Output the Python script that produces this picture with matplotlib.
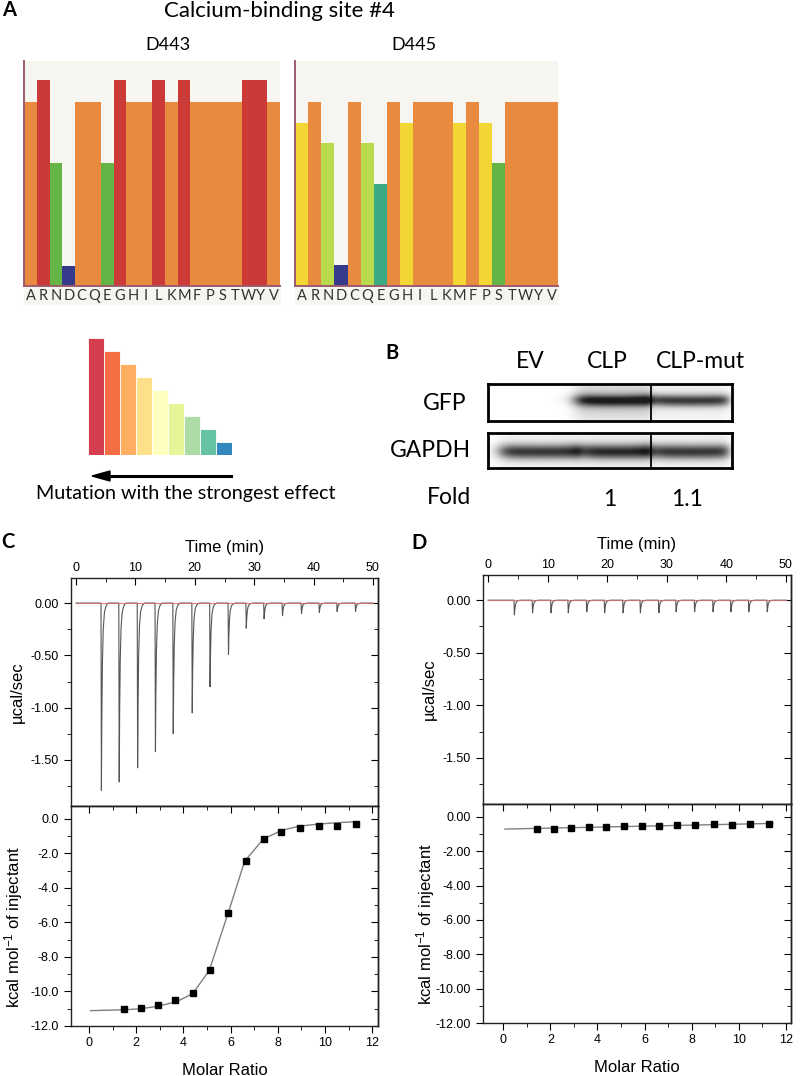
import numpy as np
import matplotlib.pyplot as plt
from matplotlib.patches import Rectangle
from matplotlib.ticker import MultipleLocator, FormatStrFormatter

plt.rcParams['axes.unicode_minus'] = False
plt.rcParams['mathtext.default'] = 'regular'

W, H = 800, 1076

# ---- panel A data ----
amino_acids = list('ARNDCQEGHILKMFPSTWYV')
d443_scores = [0.817, 0.915, 0.545, 0.089, 0.817, 0.817, 0.545, 0.915, 0.817, 0.817,
               0.915, 0.817, 0.915, 0.817, 0.817, 0.817, 0.817, 0.915, 0.915, 0.817]
d443_colors = ['#e88b3e', '#cc3a38', '#64b446', '#363a8c', '#e88b3e', '#e88b3e', '#64b446',
               '#cc3a38', '#e88b3e', '#e88b3e', '#cc3a38', '#e88b3e', '#cc3a38', '#e88b3e',
               '#e88b3e', '#e88b3e', '#e88b3e', '#cc3a38', '#cc3a38', '#e88b3e']
d445_scores = [0.724, 0.818, 0.636, 0.093, 0.818, 0.636, 0.453, 0.818, 0.724, 0.818,
               0.818, 0.818, 0.724, 0.818, 0.724, 0.547, 0.818, 0.818, 0.818, 0.818]
d445_colors = ['#f2d633', '#e88b3e', '#b9da4c', '#363a8c', '#e88b3e', '#b9da4c', '#3baa82',
               '#e88b3e', '#f2d633', '#e88b3e', '#e88b3e', '#e88b3e', '#f2d633', '#e88b3e',
               '#f2d633', '#64b446', '#e88b3e', '#e88b3e', '#e88b3e', '#e88b3e']

scale_levels = [9, 8, 7, 6, 5, 4, 3, 2, 1]
scale_colors = ['#d53e4f', '#f46d43', '#fdae61', '#fee08b', '#ffffbf',
                '#e6f598', '#abdda4', '#66c2a5', '#3288bd']

# ---- panel B data ----
lanes = ['EV', 'CLP', 'CLP-mut']
gfp_signal = [0.0, 1.0, 0.95]
gfp_haze = [0.0, 0.3, 0.12]
gapdh_signal = [0.95, 1.0, 0.95]
gapdh_haze = [0.12, 0.15, 0.12]
fold = ['', '1', '1.1']

# ---- panel C data ----
c_inj_time = [4.2, 7.2, 10.3, 13.3, 16.3, 19.5, 22.5, 25.6, 28.6, 31.6, 34.7, 37.9, 40.9, 43.9, 47.0]
c_inj_peak = [-1.79, -1.71, -1.575, -1.42, -1.25, -1.05, -0.80, -0.49, -0.24, -0.15,
              -0.12, -0.10, -0.09, -0.08, -0.08]
c_ratio = [1.50, 2.20, 2.92, 3.66, 4.39, 5.14, 5.89, 6.64, 7.40, 8.16, 8.94, 9.73, 10.52, 11.31]
c_heat = [-11.01, -10.97, -10.76, -10.51, -10.11, -8.75, -5.43, -2.42, -1.14, -0.77,
          -0.52, -0.41, -0.39, -0.29]
c_fit_x = [0.07, 1.5, 2.2, 2.9, 3.7, 4.4, 5.1, 5.9, 6.6, 7.4, 8.2, 8.9, 9.7, 10.5, 11.3]
c_fit_y = [-11.11, -11.06, -11.0, -10.86, -10.6, -10.12, -8.78, -5.45, -2.45, -1.15,
           -0.65, -0.42, -0.30, -0.22, -0.16]

# ---- panel D data ----
d_inj_time = [4.35, 7.4, 10.5, 13.4, 16.5, 19.5, 22.6, 25.5, 28.6, 31.5, 34.6, 37.7, 40.7, 43.7, 46.8]
d_inj_peak = [-0.14, -0.12, -0.12, -0.12, -0.11, -0.12, -0.12, -0.12, -0.12, -0.11,
              -0.11, -0.11, -0.11, -0.11, -0.11]
d_ratio = [1.44, 2.15, 2.89, 3.63, 4.38, 5.13, 5.88, 6.63, 7.38, 8.15, 8.93, 9.71, 10.50, 11.29]
d_heat = [-0.68, -0.70, -0.64, -0.58, -0.58, -0.54, -0.54, -0.52, -0.50, -0.48,
          -0.44, -0.46, -0.44, -0.42]
d_fit_x = [0.07, 11.45]
d_fit_y = [-0.71, -0.38]

CAL = 'Lato'
ARIAL = 'Liberation Sans'

fig = plt.figure(figsize=(W / 100, H / 100), dpi=100)


def fx(x):
    return x / W


def fy(y):
    return 1 - y / H


def px_axes(x0, y0, x1, y1):
    return fig.add_axes([fx(x0), fy(y1), (x1 - x0) / W, (y1 - y0) / H])


def text(x, y, s, **kw):
    kw.setdefault('family', CAL)
    kw.setdefault('ha', 'center')
    kw.setdefault('va', 'center')
    fig.text(fx(x), fy(y), s, **kw)


# ================= panel A =================
text(9, 10, 'A', fontsize=14.5, weight='bold')
text(279, 11, 'Calcium-binding site #4', fontsize=16)

beige = '#f6f5ef'
spine_col = '#9c5b6e'
for (x0, x1, title, tx, scores, cols) in [(24, 280, 'D443', 168, d443_scores, d443_colors),
                                          (295, 558, 'D445', 414, d445_scores, d445_colors)]:
    fig.add_artist(Rectangle((fx(x0), fy(304)), (x1 - x0) / W, (304 - 286) / H,
                             transform=fig.transFigure, color=beige, zorder=-1))
    ax = px_axes(x0, 61, x1, 286)
    ax.set_facecolor(beige)
    ax.bar(np.arange(20), scores, width=1.0, align='edge', color=cols, linewidth=0)
    ax.set_xlim(0, 20)
    ax.set_ylim(0, 1)
    ax.set_xticks(np.arange(20) + 0.5)
    ax.set_xticklabels(amino_acids, family=CAL, fontsize=10.5, color='#333333')
    ax.tick_params(axis='x', length=0, pad=2)
    ax.set_yticks([])
    for s in ['top', 'right']:
        ax.spines[s].set_visible(False)
    for s in ['left', 'bottom']:
        ax.spines[s].set_color(spine_col)
        ax.spines[s].set_linewidth(1.4)
    text(tx, 45, title, fontsize=13)

# colour scale legend
axs = px_axes(88, 330, 232, 455)
axs.bar(np.arange(9), scale_levels, width=1.0, align='edge', color=scale_colors,
        edgecolor='white', linewidth=0.6)
axs.set_xlim(0, 9)
axs.set_ylim(0, 9.6)
axs.axis('off')

fig.add_artist(plt.Line2D([fx(110), fx(231)], [fy(476), fy(476)], color='black', lw=2.2,
                          transform=fig.transFigure))
fig.add_artist(plt.Polygon([[fx(92), fy(476)], [fx(110), fy(471)], [fx(110), fy(481)]],
                           closed=True, color='black', transform=fig.transFigure))
text(186, 494, 'Mutation with the strongest effect', fontsize=14.2)

# ================= panel B =================
text(392, 353, 'B', fontsize=14.5, weight='bold')
for name, x in zip(lanes, [530, 607, 700]):
    text(x, 362, name, fontsize=16.5)
text(467, 403, 'GFP', fontsize=16.5, ha='right')
text(471, 451, 'GAPDH', fontsize=16.5, ha='right')
text(427, 498, 'Fold', fontsize=16.5, ha='left')
for f, x in zip(fold, [530, 610, 687]):
    text(x, 500, f, fontsize=16.5)

lane_edges = {'GFP': [(0.04, 0.36), (0.36, 0.668), (0.668, 0.985)],
              'GAPDH': [(0.05, 0.38), (0.38, 0.668), (0.668, 0.985)]}


def blot(ax, signal, haze, edges, band_y, sigma):
    nx, ny = 244, 40
    xs = (np.arange(nx) + 0.5) / nx
    ys = (np.arange(ny) + 0.5) / ny
    img = np.zeros((ny, nx))
    for sig, hz, (l, r) in zip(signal, haze, edges):
        hp = 1 / (1 + np.exp(-(xs - l) / 0.018)) / (1 + np.exp((xs - r) / 0.012))
        bow = 0.05 * ((xs - (l + r) / 2) / max(r - l, 1e-3)) ** 2
        vp = (np.exp(-0.5 * ((ys[:, None] - band_y + bow[None, :]) / sigma) ** 2)
              + hz * np.exp(-0.5 * ((ys[:, None] - band_y) / 0.4) ** 2))
        img += sig * vp * hp[None, :]
    ax.imshow(np.clip(img, 0, 1.2), cmap='gray_r', vmin=0, vmax=1.35, extent=[0, 1, 0, 1],
              aspect='auto', interpolation='bilinear')
    ax.axvline(0.668, color='black', lw=1.3)
    ax.set_xlim(0, 1)
    ax.set_ylim(0, 1)
    ax.set_xticks([])
    ax.set_yticks([])
    for s in ax.spines.values():
        s.set_linewidth(2)


ax_gfp = px_axes(488, 384, 732, 421)
blot(ax_gfp, gfp_signal, gfp_haze, lane_edges['GFP'], 0.45, 0.11)
ax_gapdh = px_axes(488, 433, 732, 468)
blot(ax_gapdh, gapdh_signal, gapdh_haze, lane_edges['GAPDH'], 0.55, 0.14)

# ================= panels C / D =================
peak_offsets = np.array([-0.06, 0.0, 0.07, 0.14, 0.24, 0.38, 0.58, 0.85, 1.2])
peak_shape = np.array([0.0, 0.0, 1.0, 0.62, 0.32, 0.14, 0.05, 0.015, 0.0])


def thermogram(times, peaks):
    t = [0.0]
    q = [0.0]
    for ti, pi in zip(times, peaks):
        t.extend(ti + peak_offsets)
        q.extend(pi * peak_shape)
    t.append(50.0)
    q.append(0.0)
    return t, q


def style_ticks(ax):
    for s in ax.spines.values():
        s.set_linewidth(1.0)
        s.set_color('#222222')
    for lab in ax.get_xticklabels() + ax.get_yticklabels():
        lab.set_family(ARIAL)
        lab.set_fontsize(9)


def itc_top(ax, xlim, ylim, times, peaks):
    t, q = thermogram(times, peaks)
    ax.plot([0, 50], [0, 0], color='#d07070', lw=0.8, zorder=3, alpha=0.9)
    ax.plot(t, q, color='#555555', lw=0.8, zorder=2)
    ax.set_xlim(*xlim)
    ax.set_ylim(*ylim)
    ax.set_xticks(range(0, 51, 10))
    ax.xaxis.set_minor_locator(MultipleLocator(5))
    ax.xaxis.set_ticks_position('top')
    ax.xaxis.set_label_position('top')
    ax.tick_params(axis='x', which='both', direction='in', top=True, bottom=False,
                   labeltop=True, labelbottom=False, pad=3)
    ax.tick_params(axis='x', which='major', length=5)
    ax.tick_params(axis='x', which='minor', length=3)
    ax.set_yticks([0, -0.5, -1.0, -1.5])
    ax.yaxis.set_major_formatter(FormatStrFormatter('%.2f'))
    ax.yaxis.set_minor_locator(MultipleLocator(0.25))
    ax.tick_params(axis='y', which='both', direction='out', left=True, right=False)
    ax.tick_params(axis='y', which='major', length=5)
    ax.tick_params(axis='y', which='minor', length=3)
    sec = ax.secondary_yaxis('right')
    sec.set_yticks([0, -0.5, -1.0, -1.5])
    sec.yaxis.set_minor_locator(MultipleLocator(0.25))
    sec.tick_params(axis='y', which='both', direction='in', labelright=False)
    sec.tick_params(axis='y', which='major', length=5)
    sec.tick_params(axis='y', which='minor', length=3)
    sec.spines['right'].set_linewidth(1.0)
    ax.set_xlabel('Time (min)', family=ARIAL, fontsize=12, labelpad=7)
    ax.set_ylabel('µcal/sec', family=ARIAL, fontsize=12)
    ax.yaxis.set_label_coords(-0.15, 0.5)
    style_ticks(ax)


def itc_bottom(ax, xlim, ratio, heat, fit_x, fit_y, fmt):
    ax.plot(fit_x, fit_y, color='#808080', lw=1.0)
    ax.plot(ratio, heat, 's', color='black', markersize=5)
    ax.set_xlim(*xlim)
    ax.set_ylim(-12, 0.75)
    ax.set_xticks(range(0, 13, 2))
    ax.xaxis.set_minor_locator(MultipleLocator(1))
    ax.tick_params(axis='x', which='both', direction='out', top=False, bottom=True, pad=3)
    ax.tick_params(axis='x', which='major', length=5)
    ax.tick_params(axis='x', which='minor', length=3)
    ax.set_yticks(range(0, -13, -2))
    ax.yaxis.set_major_formatter(FormatStrFormatter(fmt))
    ax.yaxis.set_minor_locator(MultipleLocator(1))
    ax.tick_params(axis='y', which='both', direction='out', left=True, right=False)
    ax.tick_params(axis='y', which='major', length=5)
    ax.tick_params(axis='y', which='minor', length=3)
    sec = ax.secondary_yaxis('right')
    sec.set_yticks(range(0, -13, -2))
    sec.yaxis.set_minor_locator(MultipleLocator(1))
    sec.tick_params(axis='y', which='both', direction='in', labelright=False)
    sec.tick_params(axis='y', which='major', length=5)
    sec.tick_params(axis='y', which='minor', length=3)
    sec.spines['right'].set_linewidth(1.0)
    secx = ax.secondary_xaxis('top')
    secx.set_xticks(range(0, 13, 2))
    secx.xaxis.set_minor_locator(MultipleLocator(1))
    secx.tick_params(axis='x', which='both', direction='in', labeltop=False)
    secx.tick_params(axis='x', which='major', length=5)
    secx.tick_params(axis='x', which='minor', length=3)
    secx.spines['top'].set_linewidth(1.0)
    ax.set_xlabel('Molar Ratio', family=ARIAL, fontsize=12, labelpad=10)
    ax.set_ylabel('kcal mol$^{-1}$ of injectant', family=ARIAL, fontsize=12)
    ax.yaxis.set_label_coords(-0.15, 0.45)
    style_ticks(ax)


text(8, 542, 'C', fontsize=14.5, weight='bold')
axc1 = px_axes(71, 578, 378, 806)
itc_top(axc1, (-0.85, 50.85), (-1.94, 0.24), c_inj_time, c_inj_peak)
axc2 = px_axes(71, 806, 378, 1026)
itc_bottom(axc2, (-0.76, 12.25), c_ratio, c_heat, c_fit_x, c_fit_y, '%.1f')

text(419, 543, 'D', fontsize=14.5, weight='bold')
axd1 = px_axes(483, 575, 791, 804)
itc_top(axd1, (-0.85, 50.85), (-1.94, 0.24), d_inj_time, d_inj_peak)
axd2 = px_axes(483, 804, 791, 1023)
itc_bottom(axd2, (-0.86, 12.22), d_ratio, d_heat, d_fit_x, d_fit_y, '%.2f')

fig.savefig('out.png', dpi=100)
